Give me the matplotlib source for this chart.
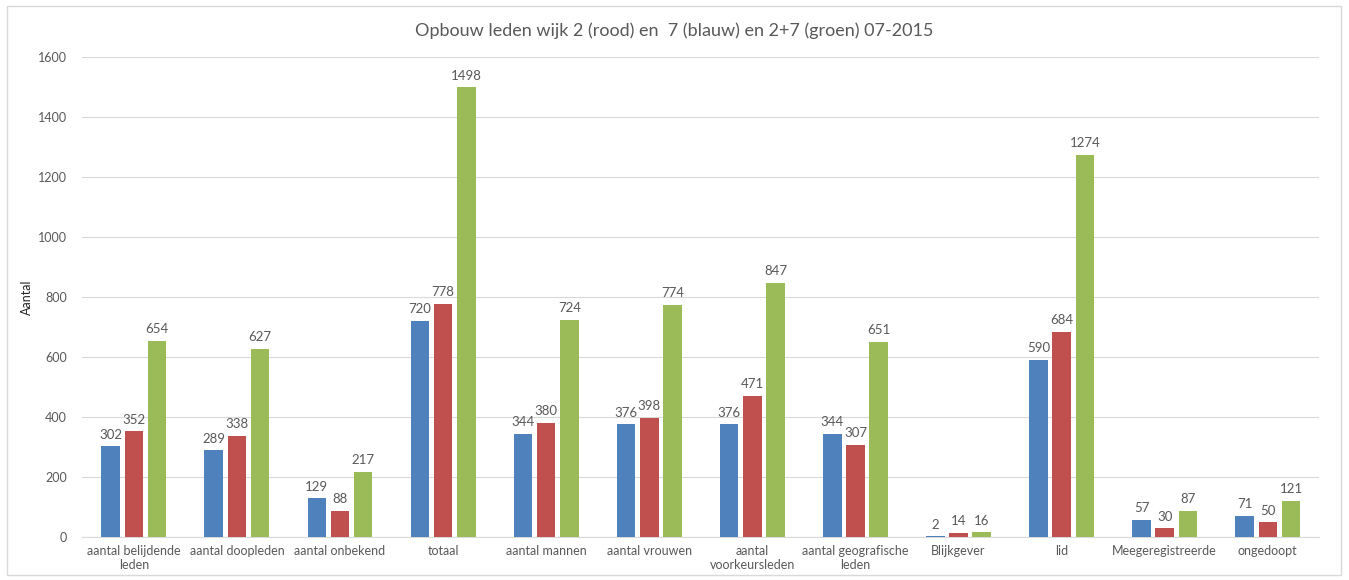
import numpy as np
import matplotlib.pyplot as plt
from matplotlib.patches import Rectangle

categories = ['aantal belijdende\nleden', 'aantal doopleden', 'aantal onbekend', 'totaal',
              'aantal mannen', 'aantal vrouwen', 'aantal\nvoorkeursleden',
              'aantal geografische\nleden', 'Blijkgever', 'lid', 'Meegeregistreerde', 'ongedoopt']
blauw = [302, 289, 129, 720, 344, 376, 376, 344, 2, 590, 57, 71]
rood = [352, 338, 88, 778, 380, 398, 471, 307, 14, 684, 30, 50]
groen = [654, 627, 217, 1498, 724, 774, 847, 651, 16, 1274, 87, 121]

plt.rcParams['font.family'] = ['Lato', 'DejaVu Sans']
grijs = '#595959'

fig = plt.figure(figsize=(13.49, 5.8), dpi=100)
ax = fig.add_axes([0.061, 0.074, 0.917, 0.828])
fig.patches.append(Rectangle((0.005, 0.008), 0.989, 0.982, transform=fig.transFigure,
                             fill=False, edgecolor='#d9d9d9', linewidth=1))

x = np.arange(len(categories))
w = 0.18
step = 0.225
reeksen = [(blauw, '#4F81BD', -step), (rood, '#C0504D', 0), (groen, '#9BBB59', step)]
for vals, kleur, off in reeksen:
    bars = ax.bar(x + off, vals, w, color=kleur, zorder=3)
    ax.bar_label(bars, padding=4, fontsize=9.5, color=grijs)

ax.set_xlim(-0.5, len(categories) - 0.5)
ax.set_ylim(0, 1600)
ax.set_yticks(range(0, 1601, 200))
ax.grid(axis='y', color='#d9d9d9', linewidth=0.8, zorder=0)
ax.set_xticks(x)
ax.set_xticklabels(categories, fontsize=9, color=grijs)
ax.tick_params(axis='y', labelsize=9, colors=grijs, length=0, pad=11)
ax.tick_params(axis='x', length=0, pad=6)
for s in ['top', 'right', 'left']:
    ax.spines[s].set_visible(False)
ax.spines['bottom'].set_color('#d9d9d9')
ax.set_ylabel('Aantal', fontsize=9, color='#262626')
ax.yaxis.set_label_coords(-0.040, 0.5)
fig.text(0.5, 0.947, 'Opbouw leden wijk 2 (rood) en  7 (blauw) en 2+7 (groen) 07-2015',
         ha='center', va='center', fontsize=13, color=grijs)

fig.savefig('out.png', dpi=100)
